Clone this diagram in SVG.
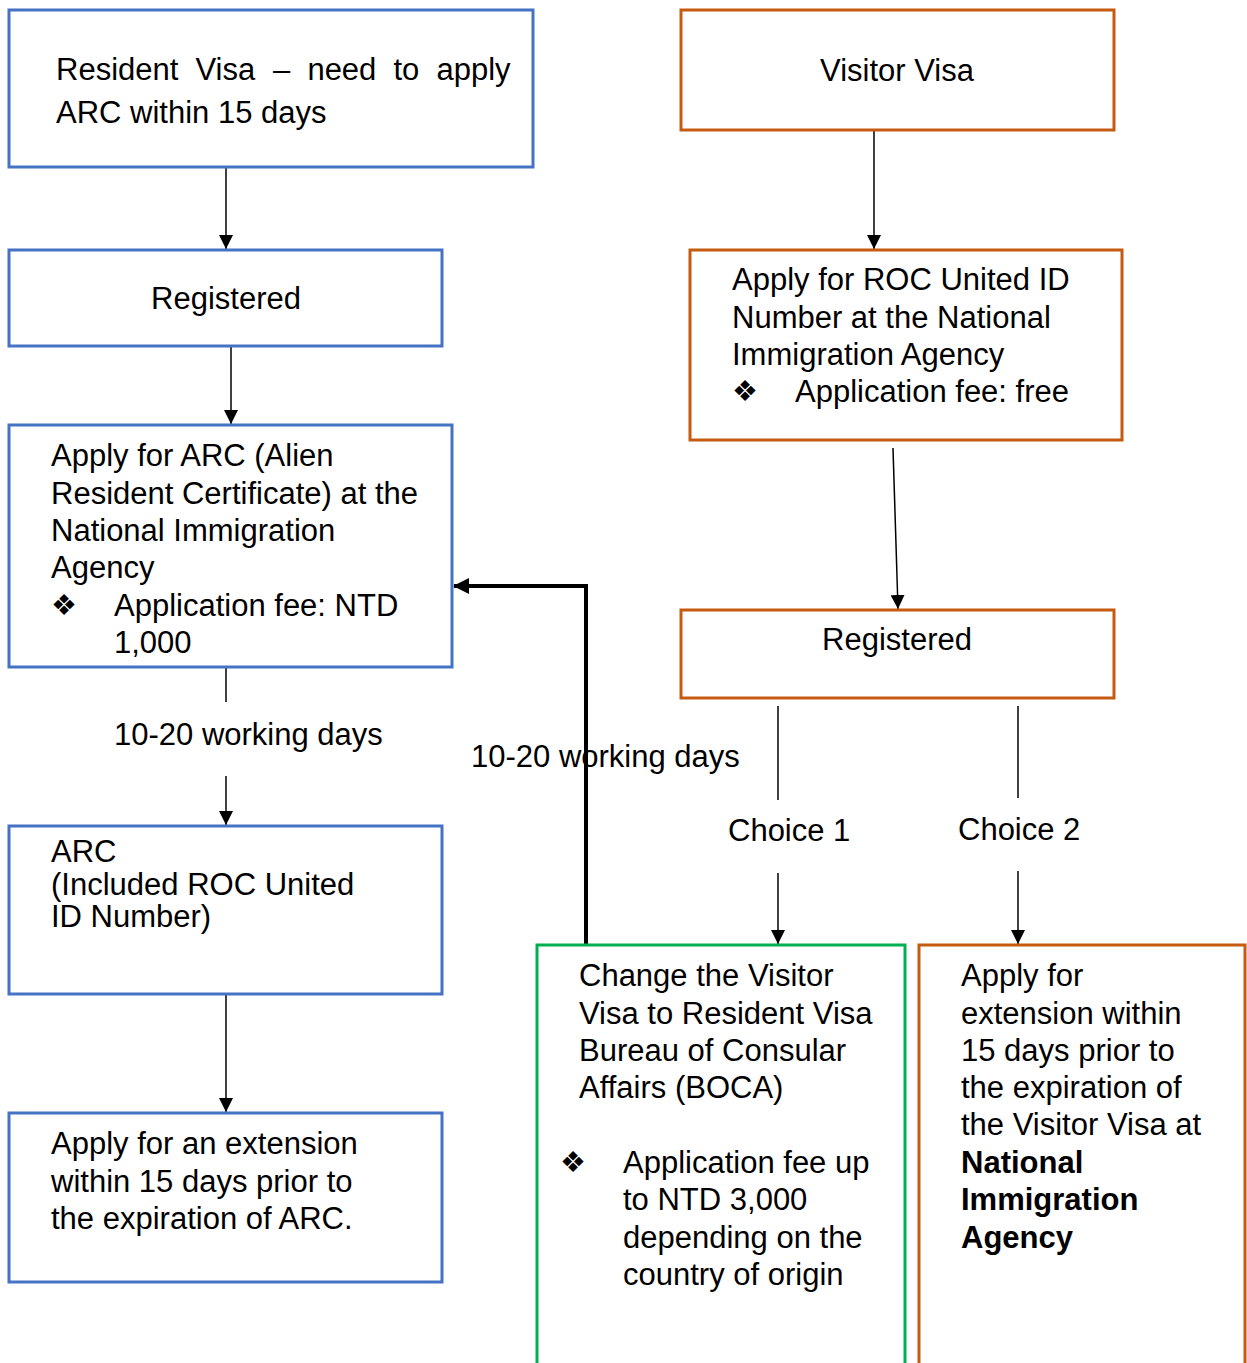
<svg xmlns="http://www.w3.org/2000/svg" width="1247" height="1363" viewBox="0 0 1247 1363">
<defs>
<style>
text{font-family:"Liberation Sans",Arial,sans-serif;font-size:31px;fill:#000}
.b{font-weight:bold}
.bul{font-family:"DejaVu Sans",sans-serif;font-size:29px}
.blue{fill:#fff;stroke:#4472C4;stroke-width:3}
.orange{fill:#fff;stroke:#C55A11;stroke-width:3}
.green{fill:#fff;stroke:#00B050;stroke-width:3}
.ln{fill:none;stroke:#000;stroke-width:1.5}
.thick{fill:none;stroke:#000;stroke-width:4}
</style>
<marker id="ah" viewBox="0 0 14 14" refX="14" refY="7" markerWidth="14" markerHeight="14" markerUnits="userSpaceOnUse" orient="auto">
<path d="M0,0 L14,7 L0,14 z" fill="#000"/>
</marker>
<marker id="ahb" viewBox="0 0 16 16" refX="15" refY="8" markerWidth="16" markerHeight="16" markerUnits="userSpaceOnUse" orient="auto">
<path d="M0,0 L16,8 L0,16 z" fill="#000"/>
</marker>
</defs>
<rect width="1247" height="1363" fill="#fff"/>

<g id="connectors">
<line class="ln" x1="226" y1="168" x2="226" y2="249" marker-end="url(#ah)"/>
<line class="ln" x1="231" y1="347" x2="231" y2="424" marker-end="url(#ah)"/>
<line class="ln" x1="226" y1="668" x2="226" y2="702"/>
<line class="ln" x1="226" y1="776" x2="226" y2="825" marker-end="url(#ah)"/>
<line class="ln" x1="226" y1="995" x2="226" y2="1112" marker-end="url(#ah)"/>
<line class="ln" x1="874" y1="131" x2="874" y2="249" marker-end="url(#ah)"/>
<line class="ln" x1="893" y1="448" x2="898" y2="609" marker-end="url(#ah)"/>
<line class="ln" x1="778" y1="706" x2="778" y2="800"/>
<line class="ln" x1="778" y1="873" x2="778" y2="944" marker-end="url(#ah)"/>
<line class="ln" x1="1018" y1="706" x2="1018" y2="798"/>
<line class="ln" x1="1018" y1="871" x2="1018" y2="944" marker-end="url(#ah)"/>
<polyline class="thick" points="586,945 586,586 454,586" marker-end="url(#ahb)"/>
<text x="114" y="745">10-20 working days</text>
<text x="471" y="767">10-20 working days</text>
<text x="728" y="841">Choice 1</text>
<text x="958" y="840">Choice 2</text>
</g>

<g id="resident-visa">
<rect class="blue" x="9" y="10" width="524" height="157"/>
<text y="80"><tspan x="56">Resident</tspan><tspan x="195.5">Visa</tspan><tspan x="273">–</tspan><tspan x="307.4">need</tspan><tspan x="393.5">to</tspan><tspan x="436.5">apply</tspan></text>
<text x="56" y="123">ARC within 15 days</text>
</g>

<g id="registered-left">
<rect class="blue" x="9" y="250" width="433" height="96"/>
<text x="226" y="309" text-anchor="middle">Registered</text>
</g>

<g id="apply-arc">
<rect class="blue" x="9" y="425" width="443" height="242"/>
<text x="51" y="466">Apply for ARC (Alien</text>
<text x="51" y="504">Resident Certificate) at the</text>
<text x="51" y="541">National Immigration</text>
<text x="51" y="578">Agency</text>
<text class="bul" x="51" y="615">❖</text>
<text x="114" y="616">Application fee: NTD</text>
<text x="114" y="653">1,000</text>
</g>

<g id="arc">
<rect class="blue" x="9" y="826" width="433" height="168"/>
<text x="51" y="862">ARC</text>
<text x="51" y="895">(Included ROC United</text>
<text x="51" y="927">ID Number)</text>
</g>

<g id="arc-extension">
<rect class="blue" x="9" y="1113" width="433" height="169"/>
<text x="51" y="1154">Apply for an extension</text>
<text x="51" y="1192">within 15 days prior to</text>
<text x="51" y="1229">the expiration of ARC.</text>
</g>

<g id="visitor-visa">
<rect class="orange" x="681" y="10" width="433" height="120"/>
<text x="897" y="81" text-anchor="middle">Visitor Visa</text>
</g>

<g id="roc-id">
<rect class="orange" x="690" y="250" width="432" height="190"/>
<text x="732" y="290">Apply for ROC United ID</text>
<text x="732" y="328">Number at the National</text>
<text x="732" y="365">Immigration Agency</text>
<text class="bul" x="732" y="401">❖</text>
<text x="795" y="402">Application fee: free</text>
</g>

<g id="registered-right">
<rect class="orange" x="681" y="610" width="433" height="88"/>
<text x="897" y="650" text-anchor="middle">Registered</text>
</g>

<g id="change-visa">
<rect class="green" x="537" y="945" width="368" height="425"/>
<text x="579" y="986">Change the Visitor</text>
<text x="579" y="1024">Visa to Resident Visa</text>
<text x="579" y="1061">Bureau of Consular</text>
<text x="579" y="1098">Affairs (BOCA)</text>
<text class="bul" x="560" y="1172">❖</text>
<text x="623" y="1173">Application fee up</text>
<text x="623" y="1210">to NTD 3,000</text>
<text x="623" y="1248">depending on the</text>
<text x="623" y="1285">country of origin</text>
</g>

<g id="visitor-extension">
<rect class="orange" x="919" y="945" width="326" height="425"/>
<text x="961" y="986">Apply for</text>
<text x="961" y="1024">extension within</text>
<text x="961" y="1061">15 days prior to</text>
<text x="961" y="1098">the expiration of</text>
<text x="961" y="1135">the Visitor Visa at</text>
<text class="b" x="961" y="1173">National</text>
<text class="b" x="961" y="1210">Immigration</text>
<text class="b" x="961" y="1248">Agency</text>
</g>
</svg>
